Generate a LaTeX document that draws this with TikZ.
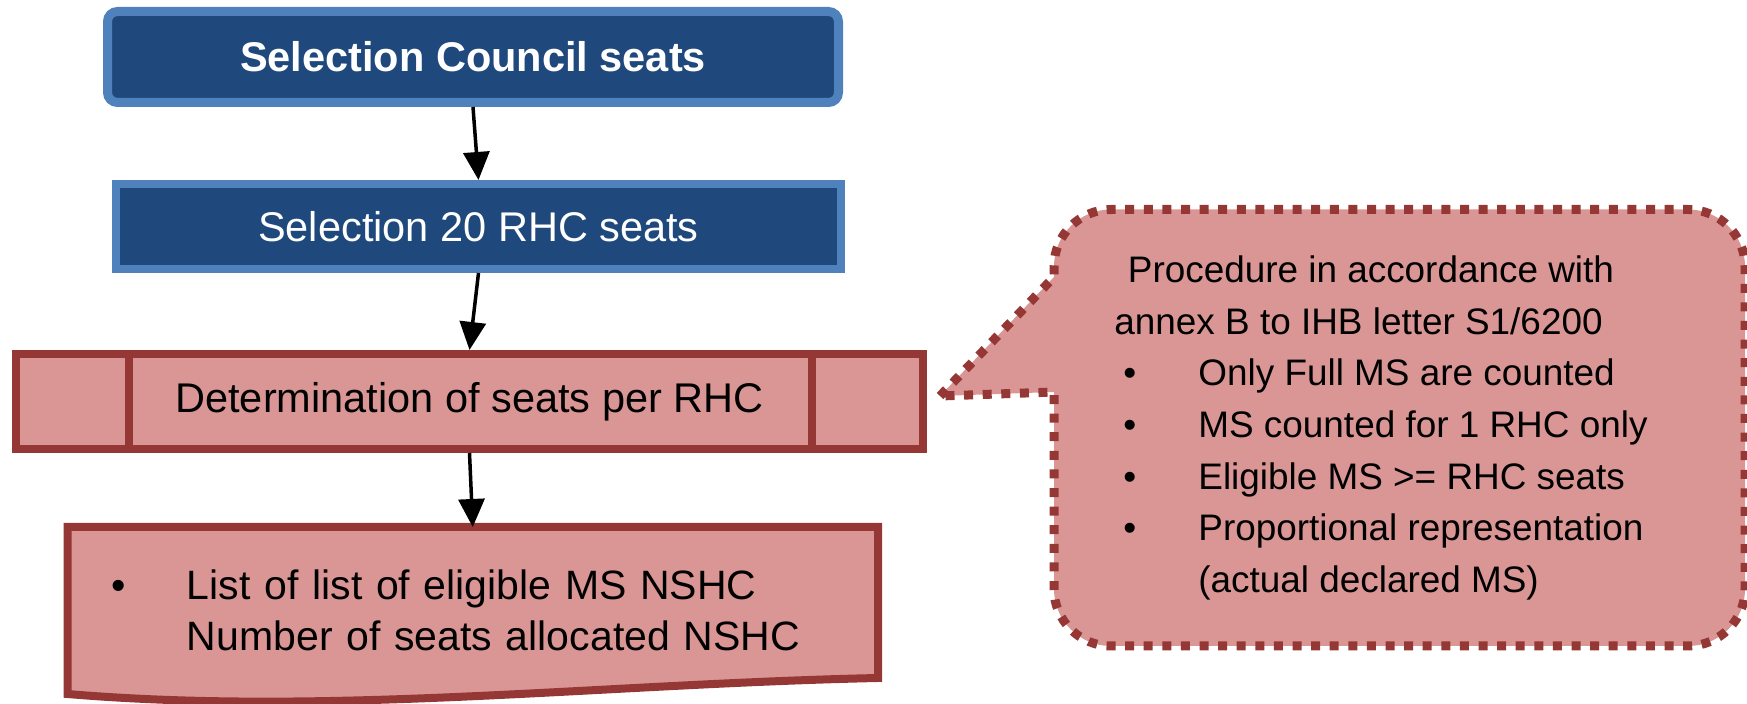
\documentclass[tikz,border=0pt]{standalone}
\usepackage{fontspec}
\setmainfont{Liberation Sans}
\usetikzlibrary{arrows.meta,positioning,calc}
\definecolor{councilblue}{HTML}{1F497D}
\definecolor{rimblue}{HTML}{4F81BD}
\definecolor{rhcpink}{HTML}{D99694}
\definecolor{rhcred}{HTML}{953735}
\pgfdeclarelayer{background}
\pgfsetlayers{background,main}

\begin{document}
\begin{tikzpicture}[x=0.5pt,y=-0.5pt,
  font=\fontsize{20.75}{25.8}\selectfont,
  seatbox/.style={draw=rimblue,fill=councilblue,text=white},
  rhcbox/.style={draw=rhcred,fill=rhcpink,line width=4pt},
  flow/.style={-{Triangle[length=14pt,width=13pt]},line width=1.75pt}]

\useasboundingbox (0,0) rectangle (1747,704);

\node[seatbox,line width=4.5pt,rounded corners=5pt,minimum width=365.5pt,minimum height=45.5pt] (council) at (473,57) {\bfseries Selection Council seats};
\node[seatbox,line width=4pt,minimum width=362.5pt,minimum height=42.5pt,below=36.5pt of council,xshift=2.75pt] (rhc) {Selection 20 RHC seats};
\node[rhcbox,minimum width=453.5pt,minimum height=47.5pt,below=38.5pt of rhc,xshift=-4.5pt] (det) {Determination of seats per RHC};
\draw[rhcred,line width=4pt] ([xshift=58.25pt]det.north west) -- ([xshift=58.25pt]det.south west)
  ([xshift=-57.5pt]det.north east) -- ([xshift=-57.5pt]det.south east);

\node[below=37pt of det,xshift=1.625pt,outer sep=0pt,inner xsep=21.75pt,text width=361.75pt,minimum height=83.5pt,align=left,font=\fontsize{20.5}{25.8}\selectfont] (list)
  {\makebox[38pt][l]{\textbullet}List of list of eligible MS NSHC\\\hspace*{38pt}Number of seats allocated NSHC};
\begin{pgfonlayer}{background}
\draw[rhcbox] (list.north west) -- (list.north east) -- ([yshift=8pt]list.south east)
  .. controls ([shift={(-139pt,5pt)}]list.south east) and ([shift={(131.25pt,-11pt)}]list.south west) .. (list.south west) -- cycle;
\end{pgfonlayer}

% callout
\draw[rhcred,fill=rhcpink,line width=4.5pt,dash pattern=on 4.5pt off 4.8pt]
  (940,396) -- (1054,277) -- (1054,266.5) arc[start angle=180,end angle=90,radius=28.5pt]
  -- (1688,209.5) arc[start angle=90,end angle=0,radius=28.5pt]
  -- (1745,589) arc[start angle=0,end angle=-90,radius=28.5pt]
  -- (1111,646) arc[start angle=270,end angle=180,radius=28.5pt]
  -- (1054,392) -- cycle;
\node[anchor=west,align=left,inner sep=0pt,font=\fontsize{18.45}{25.8}\selectfont] (proc) at (1114,428)
  {\hspace*{6.75pt}Procedure in accordance with\\
   annex B to IHB letter S1/6200\\
   \hspace*{4.5pt}\makebox[37.5pt][l]{\textbullet}Only Full MS are counted\\
   \hspace*{4.5pt}\makebox[37.5pt][l]{\textbullet}MS counted for 1 RHC only\\
   \hspace*{4.5pt}\makebox[37.5pt][l]{\textbullet}Eligible MS >= RHC seats\\
   \hspace*{4.5pt}\makebox[37.5pt][l]{\textbullet}Proportional representation\\
   \hspace*{42pt}(actual declared MS)};

\draw[flow] (council.south) -- (rhc.north);
\draw[flow] (rhc.south) -- (det.north);
\draw[flow] (det.south) -- (list.north);

\end{tikzpicture}
\end{document}
